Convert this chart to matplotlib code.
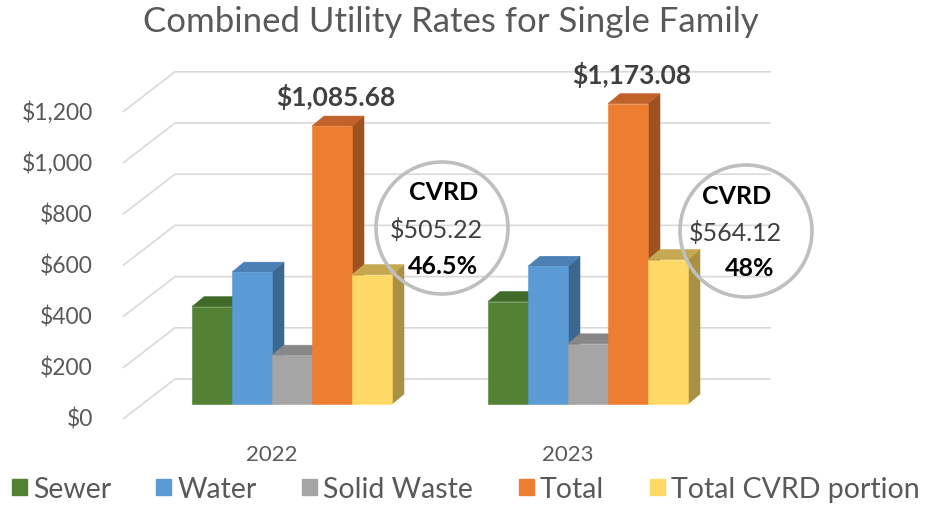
import matplotlib
matplotlib.use('Agg')
import matplotlib.pyplot as plt
from matplotlib.patches import Polygon, Ellipse, Patch

plt.rcParams['font.family'] = ['Lato', 'DejaVu Sans']

# data
years = ['2022', '2023']
series = ['Sewer', 'Water', 'Solid Waste', 'Total', 'Total CVRD portion']
sewer = [380.0, 400.0]
water = [515.0, 538.0]
solid_waste = [190.68, 235.08]
total = [1085.68, 1173.08]
cvrd_portion = [505.22, 564.12]
cvrd_share = ['46.5%', '48%']
yticks = [0, 200, 400, 600, 800, 1000, 1200]

front_colors = ['#548235', '#5B9BD5', '#A5A5A5', '#ED7D31', '#FFD966']
top_colors = ['#3F6A27', '#4A80B4', '#878787', '#C0622A', '#C6A850']
side_colors = ['#3B5E26', '#3C6890', '#707070', '#9E521F', '#A99043']

# layout (pixels of the 934x506 picture)
W, H = 934, 506
PX_PER_CAT = 296.0     # distance between the two year groups
PX_PER_USD = 0.256
X0 = 292               # first group centre
Y0 = 405               # $0 on the bar front plane


def px_x(p):
    return p / PX_PER_CAT


def px_y(p):
    return p / PX_PER_USD


fig = plt.figure(figsize=(W / 100, H / 100), dpi=100)
ax = fig.add_axes([0, 0, 1, 1])
ax.set_xlim(-X0 / PX_PER_CAT, (W - X0) / PX_PER_CAT)
ax.set_ylim(-(H - Y0) / PX_PER_USD, Y0 / PX_PER_USD)
ax.axis('off')

bar_w = px_x(40)
dep_x, dep_y = px_x(12), px_y(10)

# gridlines: short slanted part on the floor/side, then along the back wall
for v in yticks:
    xs = [px_x(123 - X0), px_x(175 - X0), px_x(771 - X0)]
    ys = [v - px_y(15), v + px_y(25), v + px_y(25)]
    ax.plot(xs, ys, color='#D9D9D9', lw=1.2, zorder=1, solid_capstyle='butt')
    ax.text(px_x(93 - X0), v - px_y(15), f'${v:,}', ha='right', va='center',
            fontsize=16.5, color='#595959')

values = [sewer, water, solid_waste, total, cvrd_portion]
for g, year in enumerate(years):
    for i, vals in enumerate(values):
        v = vals[g]
        xl = g + (i - 2.5) * bar_w
        xr = xl + bar_w
        z = 10 + i * 3
        side = Polygon([(xr, 0), (xr + dep_x, dep_y), (xr + dep_x, v + dep_y), (xr, v)],
                       closed=True, fc=side_colors[i], ec=side_colors[i], lw=0.4, zorder=z)
        top = Polygon([(xl, v), (xr, v), (xr + dep_x, v + dep_y), (xl + dep_x, v + dep_y)],
                      closed=True, fc=top_colors[i], ec=top_colors[i], lw=0.4, zorder=z + 1)
        ax.add_patch(side)
        ax.add_patch(top)
        ax.bar(xl, v, width=bar_w, align='edge', color=front_colors[i],
               edgecolor=front_colors[i], lw=0.4, zorder=z + 2)
    ax.text(g - px_x(20), -px_y(50), year, ha='center', va='center',
            fontsize=16, color='#595959')

    # total label above the orange bar (centre of the 4th bar)
    xt = g + 1.0 * bar_w
    ax.annotate(f'${total[g]:,.2f}', xy=(xt, total[g]), xytext=(4, 30),
                textcoords='offset pixels', ha='center', va='center',
                fontsize=19, fontweight='bold', color='#404040', zorder=40)

# CVRD call-out circles
circle_pos = [(442, 229), (746, 232)]
circle_r = 66
line_offsets = [[(2, -36), (-6, 1), (1, 37)], [(-9, -35), (-11, 1), (4, 36)]]
for g, (cx, cy) in enumerate(circle_pos):
    c = (px_x(cx - X0), px_y(Y0 - cy))
    ax.add_patch(Ellipse(c, px_x(2 * circle_r), px_y(2 * circle_r), fill=False,
                         ec='#BFBFBF', lw=2.6, zorder=35))
    lines = ['CVRD', f'${cvrd_portion[g]:.2f}', cvrd_share[g]]
    styles = [('bold', 'black'), ('normal', '#404040'), ('bold', 'black')]
    for (dx, dy), txt, (fw, col) in zip(line_offsets[g], lines, styles):
        ax.annotate(txt, xy=c, xytext=(dx, -dy), textcoords='offset pixels',
                    ha='center', va='center', fontsize=18, fontweight=fw,
                    color=col, zorder=40)

fig.text(451 / W, 1 - 22 / H, 'Combined Utility Rates for Single Family',
         ha='center', va='center', fontsize=25, color='#595959')

handles = [Patch(color=c) for c in front_colors]
fig.legend(handles, series, loc='center', bbox_to_anchor=(465.5 / W, 1 - 490 / H),
           ncol=5, frameon=False, fontsize=20.5, handlelength=0.53, handleheight=0.53,
           handletextpad=0.21, columnspacing=1.6, labelcolor='#595959',
           borderpad=0, borderaxespad=0)

fig.savefig('out.png', dpi=100)
